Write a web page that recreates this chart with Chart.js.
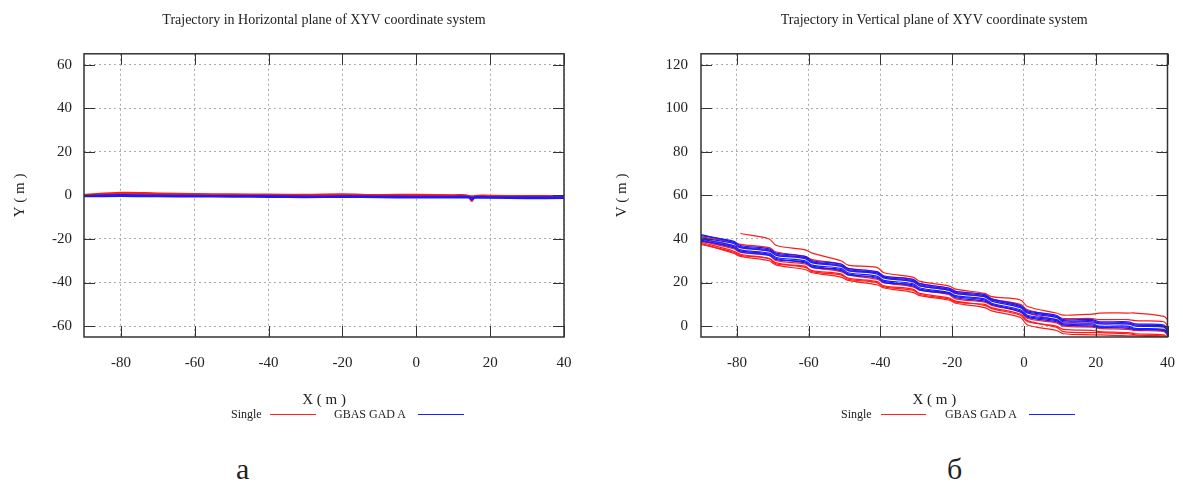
<!DOCTYPE html>
<html>
<head>
<meta charset="utf-8">
<script src="https://cdn.jsdelivr.net/npm/chart.js@4.4.1/dist/chart.umd.min.js"></script>
<style>
  body { margin: 0; background: #fff; width: 1183px; height: 484px; position: relative; overflow: hidden; font-family: "Liberation Serif", serif; color: #222; }
  canvas { position: absolute; top: 0; }
  .lg { position: absolute; top: 406px; font-size: 12px; line-height: 16px; white-space: nowrap; }
  .ln { position: absolute; top: 414px; height: 0; border-top: 1px solid; }
  .cap { position: absolute; top: 452px; font-size: 30px; line-height: 34px; }
</style>
</head>
<body>
<canvas id="chartH" width="590" height="409" style="left:0px"></canvas>
<canvas id="chartV" width="602" height="409" style="left:590px"></canvas>

<div class="lg" style="left:231px">Single</div>
<div class="ln" style="left:270px;width:46px;border-color:#ff2020"></div>
<div class="lg" style="left:334px">GBAS GAD A</div>
<div class="ln" style="left:418px;width:46px;border-color:#2020ff"></div>

<div class="lg" style="left:841px">Single</div>
<div class="ln" style="left:881px;width:45px;border-color:#ff2020"></div>
<div class="lg" style="left:945px">GBAS GAD A</div>
<div class="ln" style="left:1029px;width:46px;border-color:#2020ff"></div>

<div class="cap" style="left:236px">а</div>
<div class="cap" style="left:947px">б</div>

<script>
// tick labels
let xTicks = [-80, -60, -40, -20, 0, 20, 40];
let yTicksH = [-60, -40, -20, 0, 20, 40, 60];
let yTicksV = [0, 20, 40, 60, 80, 100, 120];

// horizontal plane (X, Y)
let xsH = [-90, -80, -70, -60, -50, -40, -30, -20, -10, 0, 10, 14, 15, 16, 20, 30, 40];
let redH1 = [0.2, 1.2, 0.9, 0.6, 0.5, 0.4, 0.3, 0.5, 0.2, 0.3, 0.1, -0.1, -2.6, -0.3, -0.2, -0.3, -0.3];
let redH2 = [0, 0.8, 0.6, 0.3, 0.2, 0.1, 0.1, 0, 0, 0, -0.2, -0.3, -0.4, -0.3, -0.4, -0.5, -0.6];
let blueH1 = [-0.2, 0.2, 0, -0.2, -0.3, -0.3, -0.5, -0.4, -0.5, -0.6, -0.6, -0.6, -1.8, -0.7, -0.8, -0.9, -0.8];
let blueH2 = [-0.4, -0.3, -0.4, -0.5, -0.6, -0.7, -0.8, -0.7, -0.9, -1, -1, -1, -1, -1.1, -1.1, -1.3, -1.2];

// vertical plane (X, V)
let xsV = [-90, -81, -79, -71, -69, -61, -59, -51, -49, -41, -39, -31, -29, -21, -19, -11, -9, -1, 1, 9, 11, 19, 21, 29, 31, 39, 40];
let blueV1 = [41.5, 39, 37, 35.5, 33.5, 32, 30, 28.5, 26.5, 25, 23, 21.5, 19.5, 17.5, 16, 14.5, 12.5, 9.5, 7, 5, 3, 3, 2, 2, 1, 0.5, -2];
let blueV2 = [40.5, 38, 36, 34.5, 32.5, 31, 29, 27.5, 25.5, 24, 22, 20.5, 18.5, 16.5, 15, 13.5, 11.5, 8.5, 6, 4, 2, 2, 1, 1, 0, -0.5, -2.5];
let blueV3 = [40, 37, 35, 33.5, 31.5, 30, 28, 26.5, 24.5, 23, 21, 19.5, 17.5, 15.5, 14, 12.5, 10.5, 7.5, 5, 3, 1, 1, 0, 0, -1, -1.5, -3];
let blueV4 = [39.5, 36, 34.5, 33, 31, 29, 27.5, 25.5, 24, 22, 20.5, 18.5, 17, 15, 13, 11.5, 10, 6.5, 4, 2, 0.5, 0, -0.5, -1, -1.5, -2, -3.5];
let blueV5 = [42, 38.5, 36.5, 35, 33, 31.5, 29.5, 28, 26, 24.5, 22.5, 21, 19, 17, 15.5, 14, 12, 9, 6.5, 4.5, 2.5, 2.5, 1.5, 1.5, 0.5, 0, -2];
let blueV6 = [39, 36.5, 34, 32.5, 30.5, 29.5, 27, 26, 23.5, 22.5, 20, 19, 16.5, 15, 13.5, 12, 10, 7, 4.5, 2.5, 0.5, 0.5, -0.5, -0.5, -1.5, -2, -4];
let redV1 = [null, null, 42.5, 40, 37, 35, 33.5, 30, 28, 27, 24.5, 22.5, 20.5, 18.5, 17, 15, 13.5, 12, 9, 6, 5, 5.5, 6, 6, 6, 4.5, 3];
let redV2 = [39, 35.5, 34, 32.5, 30, 28.5, 27, 25, 23.5, 21.5, 20, 18, 16.5, 14.5, 12.5, 11, 9.5, 6.5, 3.5, 1.5, 0, -0.5, -1, -1.5, -2, -2.5, -4];
let redV3 = [38.5, 34.5, 33, 31, 29, 27, 25.5, 24, 22, 20.5, 18.5, 17, 15, 13, 11.5, 9.5, 8, 5, 2, 0, -1.5, -2, -2.5, -3, -3.5, -4, -5];
let redV4 = [38, 33.5, 32, 30, 28, 26, 24.5, 22.5, 21, 19, 17.5, 15.5, 14, 12, 10.5, 8.5, 7, 4, 0.5, -2, -3.5, -4, -4, -4.5, -4.5, -5, -5.5];
let redV5 = [41, 38.5, 37.5, 36, 34, 32, 30.5, 28.5, 26.5, 25, 23, 21.5, 19.5, 17.5, 16, 14.5, 12.5, 10, 7.5, 4.5, 3.5, 3.5, 3, 3, 2.5, 2, 0];
let redV6 = [37.5, 34, 32.5, 31, 28.5, 27.5, 25, 23.5, 21.5, 20, 18, 16.5, 14.5, 12.5, 11, 10, 8.5, 5.5, 2.5, -0.5, -2.5, -3, -3, -3.5, -4, -4.5, -5];
let redV7 = [40, 37, 36, 34.5, 32.5, 31.5, 29.5, 27.5, 25.5, 24.5, 22.5, 20.5, 18.5, 16.5, 15, 13.5, 12, 9, 6, 3, 1.5, 1.5, 1.5, 1, 0.5, 0, -2];

const RED = '#ff1a1a';
const BLUE = '#1a1aff';
const SERIF = '"Liberation Serif", "Times New Roman", serif';

function pts(xs, ys) {
  return xs.map((x, i) => ({ x: x, y: ys[i] }));
}

function line(xs, ys, color, width) {
  return {
    data: pts(xs, ys),
    showLine: true,
    borderColor: color,
    borderWidth: width,
    pointRadius: 0,
    tension: 0.35,
    fill: false,
  };
}

// gnuplot style frame with inward tick marks
const frameTicks = {
  id: 'frameTicks',
  afterDatasetsDraw(chart) {
    const { ctx, chartArea: a, scales } = chart;
    ctx.save();
    ctx.strokeStyle = '#333';
    ctx.lineWidth = 1;
    ctx.beginPath();
    scales.x.ticks.forEach((t) => {
      let px = Math.round(scales.x.getPixelForValue(t.value)) + 0.5;
      ctx.moveTo(px, a.bottom);
      ctx.lineTo(px, a.bottom - 11);
      ctx.moveTo(px, a.top);
      ctx.lineTo(px, a.top + 11);
    });
    scales.y.ticks.forEach((t) => {
      let py = Math.round(scales.y.getPixelForValue(t.value)) + 0.5;
      ctx.moveTo(a.left, py);
      ctx.lineTo(a.left + 11, py);
      ctx.moveTo(a.right, py);
      ctx.lineTo(a.right - 11, py);
    });
    ctx.stroke();
    ctx.lineWidth = 1.5;
    ctx.strokeRect(a.left, a.top, a.right - a.left, a.bottom - a.top);
    ctx.restore();
  },
};

function makeChart(id, opts) {
  return new Chart(id, {
    type: 'scatter',
    data: { datasets: opts.datasets },
    plugins: [frameTicks],
    options: {
      responsive: false,
      animation: false,
      layout: { padding: { left: 0, right: opts.padRight, top: 0, bottom: 0 } },
      plugins: {
        legend: { display: false },
        tooltip: { enabled: false },
        title: {
          display: true,
          text: opts.title,
          fullSize: false,
          color: '#222',
          font: { family: SERIF, size: 14, weight: 'normal' },
          padding: { top: 12, bottom: 25 },
        },
      },
      scales: {
        x: {
          type: 'linear',
          min: -90,
          max: 40,
          afterBuildTicks: (s) => { s.ticks = xTicks.map((v) => ({ value: v })); },
          afterFit: (s) => { s.height = 72; },
          ticks: { color: '#222', padding: 17, maxRotation: 0, font: { family: SERIF, size: 15 } },
          grid: { color: '#aaa', drawTicks: false, lineWidth: 1 },
          border: { display: false, dash: [2, 3] },
          title: {
            display: true,
            text: 'X ( m )',
            color: '#222',
            font: { family: SERIF, size: 15 },
            padding: { top: 0, bottom: 0 },
          },
        },
        y: {
          type: 'linear',
          min: opts.yMin,
          max: opts.yMax,
          afterBuildTicks: (s) => { s.ticks = opts.yTicks.map((v) => ({ value: v })); },
          afterFit: (s) => { s.width = opts.yWidth; },
          ticks: { color: '#222', padding: opts.tickPad, font: { family: SERIF, size: 15 } },
          grid: { color: '#aaa', drawTicks: false, lineWidth: 1 },
          border: { display: false, dash: [2, 3] },
          title: {
            display: true,
            text: opts.yTitle,
            color: '#222',
            font: { family: SERIF, size: 15 },
            padding: { top: opts.titlePad, bottom: 0 },
          },
        },
      },
    },
  });
}

// blue first so it is drawn on top of red
makeChart('chartH', {
  title: 'Trajectory in Horizontal plane of XYV coordinate system',
  yTitle: 'Y ( m )',
  yMin: -65,
  yMax: 65,
  yTicks: yTicksH,
  yWidth: 84,
  tickPad: 12,
  titlePad: 11,
  padRight: 26,
  datasets: [
    line(xsH, blueH1, BLUE, 2),
    line(xsH, blueH2, BLUE, 2),
    line(xsH, redH1, RED, 2),
    line(xsH, redH2, RED, 2),
  ],
});

makeChart('chartV', {
  title: 'Trajectory in Vertical plane of XYV coordinate system',
  yTitle: 'V ( m )',
  yMin: -5,
  yMax: 125,
  yTicks: yTicksV,
  yWidth: 111,
  tickPad: 13,
  titlePad: 23,
  padRight: 0,
  datasets: [
    line(xsV, blueV1, BLUE, 1.2),
    line(xsV, blueV2, BLUE, 1.2),
    line(xsV, blueV3, BLUE, 1.2),
    line(xsV, blueV4, BLUE, 1.2),
    line(xsV, blueV5, BLUE, 1.2),
    line(xsV, blueV6, BLUE, 1.2),
    line(xsV, redV1, RED, 1.2),
    line(xsV, redV2, RED, 1.2),
    line(xsV, redV3, RED, 1.2),
    line(xsV, redV4, RED, 1.2),
    line(xsV, redV5, RED, 1.2),
    line(xsV, redV6, RED, 1.2),
    line(xsV, redV7, RED, 1.2),
  ],
});
</script>
</body>
</html>
